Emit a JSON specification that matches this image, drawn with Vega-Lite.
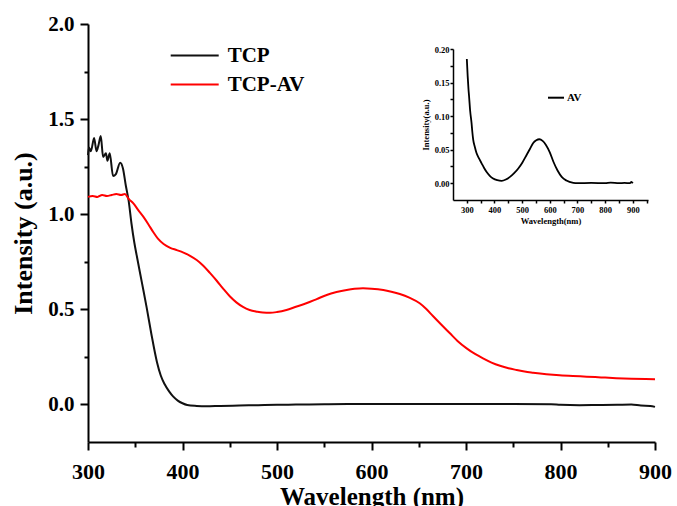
{
  "$schema": "https://vega.github.io/schema/vega-lite/v6.json",
  "width": 567,
  "height": 418,
  "autosize": "none",
  "padding": {"left": 88, "top": 24, "right": 22, "bottom": 64},
  "config": {"view": {"stroke": null}, "font": "Liberation Serif"},
  "datasets": {
    "main": [
      {"sample": "TCP", "wavelength": 300, "intensity": 1.31},
      {"sample": "TCP", "wavelength": 301, "intensity": 1.35},
      {"sample": "TCP", "wavelength": 303, "intensity": 1.33},
      {"sample": "TCP", "wavelength": 306.5, "intensity": 1.40},
      {"sample": "TCP", "wavelength": 309, "intensity": 1.33},
      {"sample": "TCP", "wavelength": 311, "intensity": 1.36},
      {"sample": "TCP", "wavelength": 313.5, "intensity": 1.41},
      {"sample": "TCP", "wavelength": 316, "intensity": 1.30},
      {"sample": "TCP", "wavelength": 319, "intensity": 1.32},
      {"sample": "TCP", "wavelength": 320.5, "intensity": 1.28},
      {"sample": "TCP", "wavelength": 323, "intensity": 1.32},
      {"sample": "TCP", "wavelength": 326.5, "intensity": 1.20},
      {"sample": "TCP", "wavelength": 329.5, "intensity": 1.21},
      {"sample": "TCP", "wavelength": 334, "intensity": 1.27},
      {"sample": "TCP", "wavelength": 337, "intensity": 1.24},
      {"sample": "TCP", "wavelength": 340, "intensity": 1.15},
      {"sample": "TCP", "wavelength": 343, "intensity": 1.07},
      {"sample": "TCP", "wavelength": 346, "intensity": 0.95},
      {"sample": "TCP", "wavelength": 349, "intensity": 0.85},
      {"sample": "TCP", "wavelength": 352, "intensity": 0.77},
      {"sample": "TCP", "wavelength": 357, "intensity": 0.64},
      {"sample": "TCP", "wavelength": 362, "intensity": 0.51},
      {"sample": "TCP", "wavelength": 367, "intensity": 0.37},
      {"sample": "TCP", "wavelength": 373, "intensity": 0.22},
      {"sample": "TCP", "wavelength": 377, "intensity": 0.15},
      {"sample": "TCP", "wavelength": 381, "intensity": 0.105},
      {"sample": "TCP", "wavelength": 386, "intensity": 0.065},
      {"sample": "TCP", "wavelength": 390, "intensity": 0.04},
      {"sample": "TCP", "wavelength": 395, "intensity": 0.018},
      {"sample": "TCP", "wavelength": 400, "intensity": 0.004},
      {"sample": "TCP", "wavelength": 405, "intensity": -0.005},
      {"sample": "TCP", "wavelength": 415, "intensity": -0.01},
      {"sample": "TCP", "wavelength": 425, "intensity": -0.012},
      {"sample": "TCP", "wavelength": 440, "intensity": -0.01},
      {"sample": "TCP", "wavelength": 460, "intensity": -0.008},
      {"sample": "TCP", "wavelength": 480, "intensity": -0.006},
      {"sample": "TCP", "wavelength": 500, "intensity": -0.004},
      {"sample": "TCP", "wavelength": 520, "intensity": -0.003},
      {"sample": "TCP", "wavelength": 550, "intensity": -0.001},
      {"sample": "TCP", "wavelength": 575, "intensity": 0.0},
      {"sample": "TCP", "wavelength": 600, "intensity": 0.0},
      {"sample": "TCP", "wavelength": 650, "intensity": 0.0},
      {"sample": "TCP", "wavelength": 700, "intensity": 0.0},
      {"sample": "TCP", "wavelength": 750, "intensity": 0.0},
      {"sample": "TCP", "wavelength": 790, "intensity": -0.001},
      {"sample": "TCP", "wavelength": 800, "intensity": -0.004},
      {"sample": "TCP", "wavelength": 820, "intensity": -0.006},
      {"sample": "TCP", "wavelength": 840, "intensity": -0.005},
      {"sample": "TCP", "wavelength": 860, "intensity": -0.004},
      {"sample": "TCP", "wavelength": 875, "intensity": -0.003},
      {"sample": "TCP", "wavelength": 885, "intensity": -0.008},
      {"sample": "TCP", "wavelength": 895, "intensity": -0.01},
      {"sample": "TCP", "wavelength": 900, "intensity": -0.015},
      {"sample": "TCP-AV", "wavelength": 300, "intensity": 1.09},
      {"sample": "TCP-AV", "wavelength": 305, "intensity": 1.095},
      {"sample": "TCP-AV", "wavelength": 310, "intensity": 1.09},
      {"sample": "TCP-AV", "wavelength": 315, "intensity": 1.10},
      {"sample": "TCP-AV", "wavelength": 320, "intensity": 1.095},
      {"sample": "TCP-AV", "wavelength": 325, "intensity": 1.10},
      {"sample": "TCP-AV", "wavelength": 330, "intensity": 1.105},
      {"sample": "TCP-AV", "wavelength": 335, "intensity": 1.10},
      {"sample": "TCP-AV", "wavelength": 339, "intensity": 1.105},
      {"sample": "TCP-AV", "wavelength": 343, "intensity": 1.08},
      {"sample": "TCP-AV", "wavelength": 348, "intensity": 1.056},
      {"sample": "TCP-AV", "wavelength": 353, "intensity": 1.022},
      {"sample": "TCP-AV", "wavelength": 358.5, "intensity": 0.986},
      {"sample": "TCP-AV", "wavelength": 364, "intensity": 0.945},
      {"sample": "TCP-AV", "wavelength": 369, "intensity": 0.905},
      {"sample": "TCP-AV", "wavelength": 374, "intensity": 0.87},
      {"sample": "TCP-AV", "wavelength": 380, "intensity": 0.842},
      {"sample": "TCP-AV", "wavelength": 387, "intensity": 0.822},
      {"sample": "TCP-AV", "wavelength": 394, "intensity": 0.81},
      {"sample": "TCP-AV", "wavelength": 401, "intensity": 0.797},
      {"sample": "TCP-AV", "wavelength": 408, "intensity": 0.78},
      {"sample": "TCP-AV", "wavelength": 415, "intensity": 0.758},
      {"sample": "TCP-AV", "wavelength": 422, "intensity": 0.728},
      {"sample": "TCP-AV", "wavelength": 429, "intensity": 0.69},
      {"sample": "TCP-AV", "wavelength": 436, "intensity": 0.65},
      {"sample": "TCP-AV", "wavelength": 443, "intensity": 0.607},
      {"sample": "TCP-AV", "wavelength": 450, "intensity": 0.567},
      {"sample": "TCP-AV", "wavelength": 457, "intensity": 0.535},
      {"sample": "TCP-AV", "wavelength": 464, "intensity": 0.511},
      {"sample": "TCP-AV", "wavelength": 471, "intensity": 0.495},
      {"sample": "TCP-AV", "wavelength": 478.5, "intensity": 0.486},
      {"sample": "TCP-AV", "wavelength": 485, "intensity": 0.481},
      {"sample": "TCP-AV", "wavelength": 492.6, "intensity": 0.48},
      {"sample": "TCP-AV", "wavelength": 500, "intensity": 0.484},
      {"sample": "TCP-AV", "wavelength": 510, "intensity": 0.495},
      {"sample": "TCP-AV", "wavelength": 520, "intensity": 0.512},
      {"sample": "TCP-AV", "wavelength": 531, "intensity": 0.53},
      {"sample": "TCP-AV", "wavelength": 542, "intensity": 0.552},
      {"sample": "TCP-AV", "wavelength": 552.6, "intensity": 0.574},
      {"sample": "TCP-AV", "wavelength": 563, "intensity": 0.589},
      {"sample": "TCP-AV", "wavelength": 573.7, "intensity": 0.60},
      {"sample": "TCP-AV", "wavelength": 582, "intensity": 0.606},
      {"sample": "TCP-AV", "wavelength": 591, "intensity": 0.609},
      {"sample": "TCP-AV", "wavelength": 600, "intensity": 0.607},
      {"sample": "TCP-AV", "wavelength": 612.5, "intensity": 0.60},
      {"sample": "TCP-AV", "wavelength": 621, "intensity": 0.591},
      {"sample": "TCP-AV", "wavelength": 630, "intensity": 0.579},
      {"sample": "TCP-AV", "wavelength": 640, "intensity": 0.56},
      {"sample": "TCP-AV", "wavelength": 651, "intensity": 0.53},
      {"sample": "TCP-AV", "wavelength": 658, "intensity": 0.50},
      {"sample": "TCP-AV", "wavelength": 665, "intensity": 0.463},
      {"sample": "TCP-AV", "wavelength": 674, "intensity": 0.417},
      {"sample": "TCP-AV", "wavelength": 683, "intensity": 0.372},
      {"sample": "TCP-AV", "wavelength": 691, "intensity": 0.332},
      {"sample": "TCP-AV", "wavelength": 700.7, "intensity": 0.293},
      {"sample": "TCP-AV", "wavelength": 710, "intensity": 0.262},
      {"sample": "TCP-AV", "wavelength": 718, "intensity": 0.24},
      {"sample": "TCP-AV", "wavelength": 727, "intensity": 0.218},
      {"sample": "TCP-AV", "wavelength": 736, "intensity": 0.201},
      {"sample": "TCP-AV", "wavelength": 745, "intensity": 0.188},
      {"sample": "TCP-AV", "wavelength": 753.6, "intensity": 0.179},
      {"sample": "TCP-AV", "wavelength": 762, "intensity": 0.171},
      {"sample": "TCP-AV", "wavelength": 771, "intensity": 0.165},
      {"sample": "TCP-AV", "wavelength": 785, "intensity": 0.157},
      {"sample": "TCP-AV", "wavelength": 799, "intensity": 0.151},
      {"sample": "TCP-AV", "wavelength": 813, "intensity": 0.147},
      {"sample": "TCP-AV", "wavelength": 827.7, "intensity": 0.144},
      {"sample": "TCP-AV", "wavelength": 843, "intensity": 0.14},
      {"sample": "TCP-AV", "wavelength": 859, "intensity": 0.136},
      {"sample": "TCP-AV", "wavelength": 875, "intensity": 0.133},
      {"sample": "TCP-AV", "wavelength": 890, "intensity": 0.131},
      {"sample": "TCP-AV", "wavelength": 900, "intensity": 0.13}
    ],
    "inset": [
      {"sample": "AV", "wavelength": 300, "intensity": 0.185},
      {"sample": "AV", "wavelength": 303, "intensity": 0.16},
      {"sample": "AV", "wavelength": 306, "intensity": 0.14},
      {"sample": "AV", "wavelength": 308, "intensity": 0.13},
      {"sample": "AV", "wavelength": 312, "intensity": 0.108},
      {"sample": "AV", "wavelength": 317, "intensity": 0.09},
      {"sample": "AV", "wavelength": 320, "intensity": 0.076},
      {"sample": "AV", "wavelength": 323, "intensity": 0.065},
      {"sample": "AV", "wavelength": 329, "intensity": 0.054},
      {"sample": "AV", "wavelength": 335, "intensity": 0.045},
      {"sample": "AV", "wavelength": 344, "intensity": 0.037},
      {"sample": "AV", "wavelength": 353, "intensity": 0.03},
      {"sample": "AV", "wavelength": 362, "intensity": 0.023},
      {"sample": "AV", "wavelength": 371, "intensity": 0.017},
      {"sample": "AV", "wavelength": 383, "intensity": 0.011},
      {"sample": "AV", "wavelength": 395, "intensity": 0.007},
      {"sample": "AV", "wavelength": 410, "intensity": 0.0045},
      {"sample": "AV", "wavelength": 426, "intensity": 0.0035},
      {"sample": "AV", "wavelength": 441, "intensity": 0.0055},
      {"sample": "AV", "wavelength": 456, "intensity": 0.0095},
      {"sample": "AV", "wavelength": 471, "intensity": 0.015},
      {"sample": "AV", "wavelength": 486, "intensity": 0.022},
      {"sample": "AV", "wavelength": 501, "intensity": 0.031},
      {"sample": "AV", "wavelength": 516, "intensity": 0.042},
      {"sample": "AV", "wavelength": 528, "intensity": 0.051},
      {"sample": "AV", "wavelength": 540, "intensity": 0.06},
      {"sample": "AV", "wavelength": 551, "intensity": 0.064},
      {"sample": "AV", "wavelength": 562, "intensity": 0.0655},
      {"sample": "AV", "wavelength": 574, "intensity": 0.063},
      {"sample": "AV", "wavelength": 586, "intensity": 0.057},
      {"sample": "AV", "wavelength": 600, "intensity": 0.046},
      {"sample": "AV", "wavelength": 613, "intensity": 0.032},
      {"sample": "AV", "wavelength": 628, "intensity": 0.019},
      {"sample": "AV", "wavelength": 643, "intensity": 0.0095},
      {"sample": "AV", "wavelength": 660, "intensity": 0.004},
      {"sample": "AV", "wavelength": 685, "intensity": 0.0005},
      {"sample": "AV", "wavelength": 700, "intensity": 0.0},
      {"sample": "AV", "wavelength": 750, "intensity": 0.0005},
      {"sample": "AV", "wavelength": 800, "intensity": 0.0},
      {"sample": "AV", "wavelength": 820, "intensity": 0.001},
      {"sample": "AV", "wavelength": 850, "intensity": 0.0},
      {"sample": "AV", "wavelength": 870, "intensity": 0.0005},
      {"sample": "AV", "wavelength": 890, "intensity": 0.0},
      {"sample": "AV", "wavelength": 895, "intensity": 0.002},
      {"sample": "AV", "wavelength": 900, "intensity": 0.0}
    ]
  },
  "layer": [
    {
      "data": {"name": "main"},
      "mark": {"type": "line", "strokeWidth": 2, "interpolate": "monotone"},
      "encoding": {
        "x": {
          "field": "wavelength", "type": "quantitative",
          "scale": {"domain": [300, 900], "nice": false, "zero": false},
          "axis": {
            "title": "Wavelength (nm)",
            "values": [300, 350, 400, 450, 500, 550, 600, 650, 700, 750, 800, 850, 900],
            "labelExpr": "datum.value % 100 === 0 ? datum.label : ''",
            "tickSize": {"condition": {"test": "datum.value % 100 === 0", "value": 8}, "value": 5},
            "grid": false, "labelFlush": false, "labelOverlap": false,
            "domainColor": "black", "domainWidth": 2, "tickColor": "black", "tickWidth": 2,
            "labelFont": "Liberation Serif", "labelFontSize": 22, "labelFontWeight": "bold", "labelColor": "black", "labelPadding": 11,
            "titleFont": "Liberation Serif", "titleFontSize": 25, "titleFontWeight": "bold", "titleColor": "black", "titlePadding": 2
          }
        },
        "y": {
          "field": "intensity", "type": "quantitative",
          "scale": {"domain": [-0.2, 2.0], "nice": false, "zero": false},
          "axis": {
            "title": "Intensity (a.u.)",
            "values": [0, 0.25, 0.5, 0.75, 1.0, 1.25, 1.5, 1.75, 2.0],
            "labelExpr": "round(datum.value * 100) % 50 === 0 ? format(datum.value, '.1f') : ''",
            "tickSize": {"condition": {"test": "round(datum.value * 100) % 50 === 0", "value": 8}, "value": 4},
            "grid": false, "labelOverlap": false, "labelFlush": false,
            "domainColor": "black", "domainWidth": 2, "tickColor": "black", "tickWidth": 2,
            "labelFont": "Liberation Serif", "labelFontSize": 21, "labelFontWeight": "bold", "labelColor": "black", "labelPadding": 6,
            "titleFont": "Liberation Serif", "titleFontSize": 26, "titleFontWeight": "bold", "titleColor": "black", "titlePadding": 11
          }
        },
        "color": {
          "field": "sample", "type": "nominal",
          "scale": {"domain": ["TCP", "TCP-AV"], "range": ["#111111", "#ff0000"]},
          "legend": {
            "title": null, "orient": "none", "legendX": 95.7, "legendY": 20.5, "padding": 0,
            "symbolType": "M-2.4,0H2.4", "symbolSize": 400, "symbolStrokeWidth": 2,
            "labelFont": "Liberation Serif", "labelFontSize": 21, "labelFontWeight": "bold", "labelColor": "black",
            "labelOffset": 22, "rowPadding": 8
          }
        }
      }
    },
    {
      "data": {"name": "inset"},
      "mark": {"type": "line", "strokeWidth": 1.8, "interpolate": "monotone"},
      "encoding": {
        "x": {
          "field": "wavelength", "type": "quantitative",
          "scale": {"domain": [250, 955], "range": [365, 560], "nice": false, "zero": false},
          "axis": {
            "orient": "bottom", "offset": -242,
            "title": "Wavelength(nm)",
            "values": [300, 350, 400, 450, 500, 550, 600, 650, 700, 750, 800, 850, 900, 950],
            "labelExpr": "datum.value % 100 === 0 ? datum.label : ''",
            "tickSize": 3, "grid": false, "labelFlush": false, "labelOverlap": false,
            "domainColor": "black", "domainWidth": 1.5, "tickColor": "black", "tickWidth": 1.5,
            "labelFont": "Liberation Serif", "labelFontSize": 8.5, "labelFontWeight": "bold", "labelColor": "black", "labelPadding": 2,
            "titleFont": "Liberation Serif", "titleFontSize": 8.5, "titleFontWeight": "bold", "titleColor": "black", "titlePadding": 3
          }
        },
        "y": {
          "field": "intensity", "type": "quantitative",
          "scale": {"domain": [-0.025, 0.2], "range": [176, 25], "nice": false, "zero": false},
          "axis": {
            "orient": "left", "offset": -365,
            "title": "Intensity(a.u.)",
            "values": [0, 0.025, 0.05, 0.075, 0.1, 0.125, 0.15, 0.175, 0.2],
            "labelExpr": "round(datum.value * 1000) % 50 === 0 ? format(datum.value, '.2f') : ''",
            "tickSize": 3, "grid": false, "labelFlush": false, "labelOverlap": false,
            "domainColor": "black", "domainWidth": 1.5, "tickColor": "black", "tickWidth": 1.5,
            "labelFont": "Liberation Serif", "labelFontSize": 8.5, "labelFontWeight": "bold", "labelColor": "black", "labelPadding": 1,
            "titleFont": "Liberation Serif", "titleFontSize": 8.5, "titleFontWeight": "bold", "titleColor": "black", "titlePadding": 4
          }
        },
        "color": {
          "field": "sample", "type": "nominal",
          "scale": {"domain": ["AV"], "range": ["#000000"]},
          "legend": {
            "title": null, "orient": "none", "legendX": 459, "legendY": 64.7, "padding": 0,
            "symbolType": "stroke", "symbolSize": 256, "symbolStrokeWidth": 2,
            "labelFont": "Liberation Serif", "labelFontSize": 11, "labelFontWeight": "bold", "labelColor": "black",
            "labelOffset": 2
          }
        }
      }
    }
  ],
  "resolve": {"scale": {"x": "independent", "y": "independent", "color": "independent"}}
}
